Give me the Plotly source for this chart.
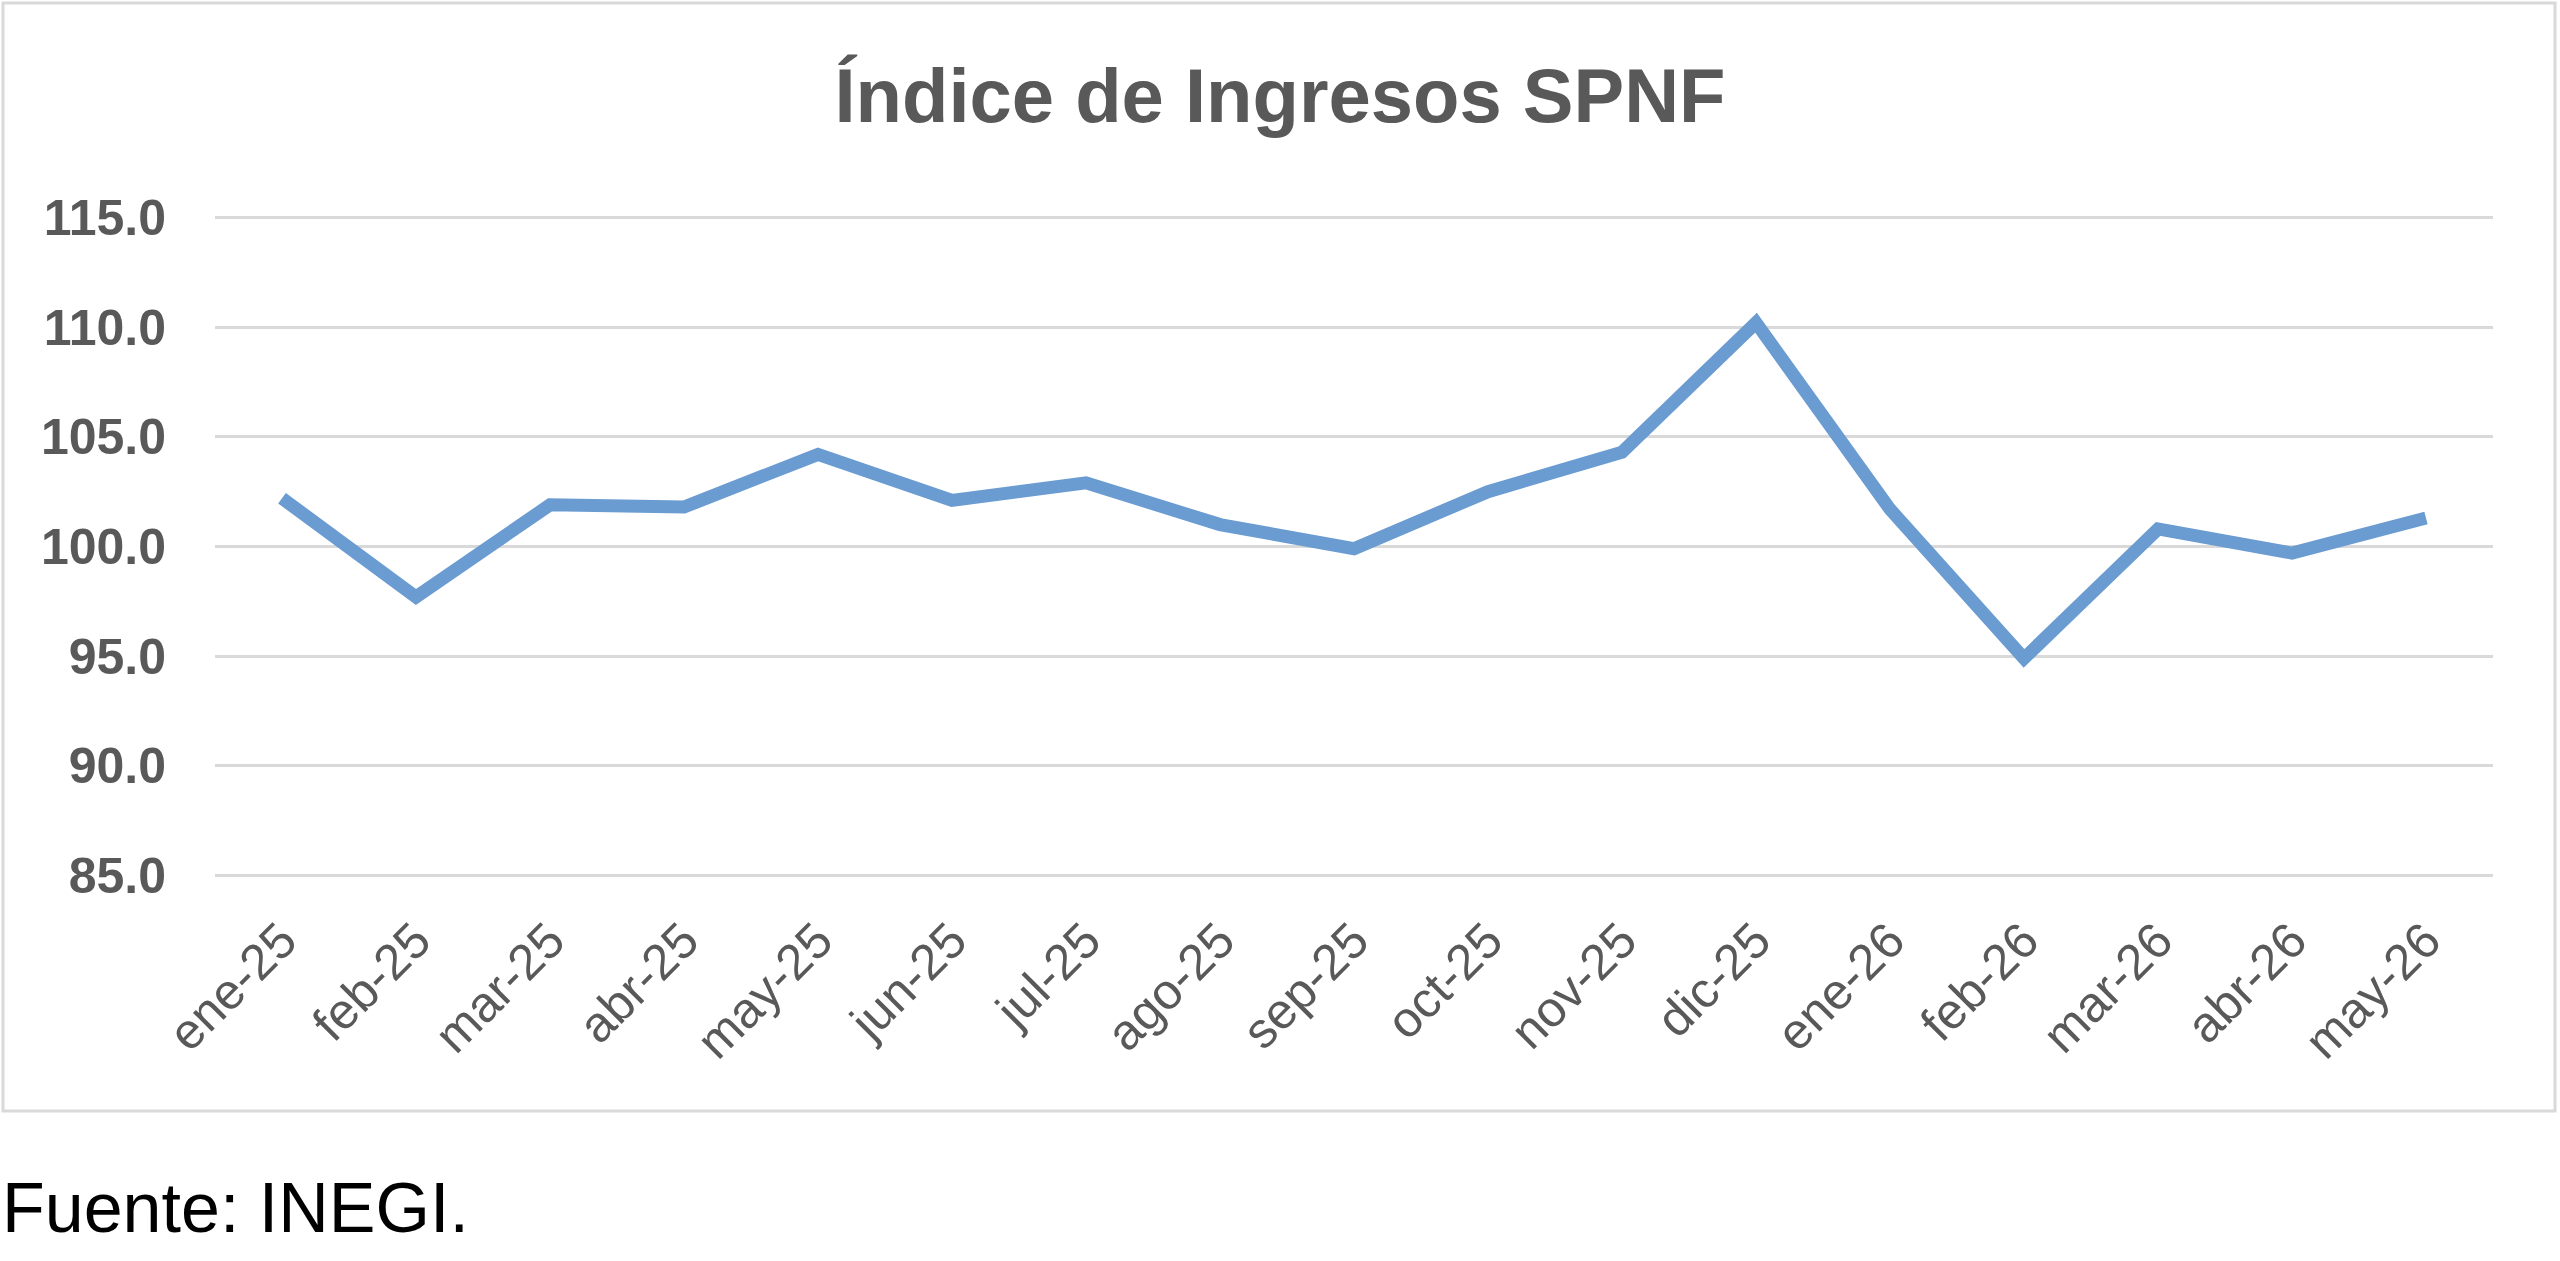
import plotly.graph_objects as go

# monthly index values
months = ["ene-25", "feb-25", "mar-25", "abr-25", "may-25", "jun-25",
          "jul-25", "ago-25", "sep-25", "oct-25", "nov-25", "dic-25",
          "ene-26", "feb-26", "mar-26", "abr-26", "may-26"]
indice = [102.2, 97.7, 101.9, 101.8, 104.2, 102.1,
          102.9, 101.0, 99.9, 102.5, 104.3, 110.2,
          101.7, 94.9, 100.8, 99.7, 101.3]
y_ticks = [85, 90, 95, 100, 105, 110, 115]

W, H = 2560, 1261
# plot area: 115 gridline at y=217, 85 gridline at y=876 (page pixels)
UNIT = (876 - 217) / 30
PAD = 0.25  # small range padding so the end gridlines are still drawn
L, R = 215, 67
T = round(217 - PAD * UNIT)
B = round(H - (876 + PAD * UNIT))
GRAY = "#595959"
GRID = "#D9D9D9"


def px_x(x):
    return (x - L) / (W - L - R)


def px_y(y):
    return 1 - (y - T) / (H - T - B)


fig = go.Figure()
fig.add_trace(go.Scatter(
    x=months, y=indice, mode="lines",
    line=dict(color="#6A9BD1", width=13),
    hoverinfo="x+y",
))

fig.update_layout(
    width=W, height=H,
    margin=dict(l=L, r=R, t=T, b=B, autoexpand=False),
    paper_bgcolor="white", plot_bgcolor="white",
    showlegend=False,
    title=dict(text="<b>Índice de Ingresos SPNF</b>",
               x=0.5, xanchor="center", xref="container",
               y=1 - 95 / H, yanchor="middle", yref="container",
               font=dict(family="Liberation Sans", size=76, color=GRAY)),
    xaxis=dict(
        type="category", range=[-0.5, len(months) - 0.5], tickangle=-45,
        showgrid=False, showline=False, zeroline=False, ticks="",
        ticklabelstandoff=24 - round(PAD * UNIT),
        tickfont=dict(family="Liberation Sans", size=50, color=GRAY),
    ),
    yaxis=dict(
        range=[85 - PAD, 115 + PAD], tickvals=y_ticks, tickformat=".1f",
        showgrid=True, gridcolor=GRID, gridwidth=3, zeroline=False,
        showline=False, ticks="", ticklabelstandoff=48,
        tickfont=dict(family="Liberation Sans", size=50, color=GRAY,
                      weight="bold"),
    ),
    shapes=[dict(type="rect", xref="paper", yref="paper",
                 x0=px_x(3), x1=px_x(2555), y0=px_y(1111), y1=px_y(3),
                 line=dict(color=GRID, width=3), fillcolor="rgba(0,0,0,0)",
                 layer="below")],
    annotations=[dict(text="Fuente: INEGI.", xref="paper", yref="paper",
                      x=px_x(1), y=px_y(1208), xanchor="left",
                      yanchor="middle", showarrow=False, borderpad=0,
                      font=dict(family="Liberation Sans", size=70,
                                color="black"))],
)

# drop the default 8px body margin so the page pixels line up
fig.write_html("out.html", config={"displayModeBar": False},
               post_script="document.body.style.margin = '0';")
